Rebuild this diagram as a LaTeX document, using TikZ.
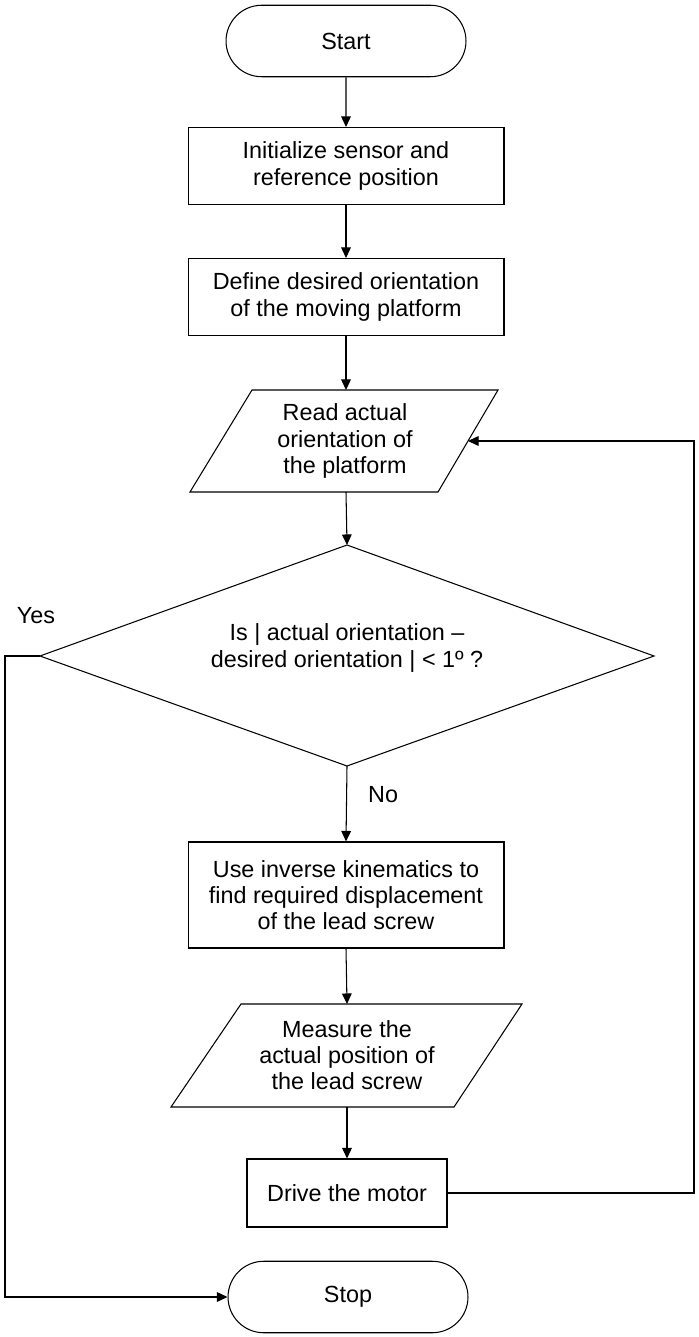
\documentclass[tikz,border=0pt]{standalone}
\usepackage{fontspec}
\setmainfont{Liberation Sans}
\usetikzlibrary{arrows.meta,calc,shapes.misc}
\begin{document}
\begin{tikzpicture}[x=0.02cm,y=-0.02cm,
  every node/.style={font=\fontsize{13.3}{15}\selectfont, align=center, inner sep=0pt},
  ln/.style={line width=0.6pt},
  proc/.style={draw, ln, rectangle, minimum width=6.32cm},
  term/.style={draw, ln, rounded rectangle, minimum width=4.8cm, minimum height=1.43cm},
  arr/.style={ln, -{Triangle[length=6pt,width=5.5pt]}}]
\path[use as bounding box] (0,0) rectangle (698,1337);

% nodes
\node[term] (start) at (346,41) {Start};
\node[proc, minimum height=1.54cm] (b1) at (346,166) {Initialize sensor and\\reference position};
\node[proc, minimum height=1.54cm] (b2) at (346,297) {Define desired orientation\\of the moving platform};

% parallelogram 1
\coordinate (p1tl) at (252,390); \coordinate (p1tr) at (498,390);
\coordinate (p1br) at (438,492); \coordinate (p1bl) at (190,492);
\draw[ln] (p1tl) -- (p1tr) -- (p1br) -- (p1bl) -- cycle;
\node (p1) at (345,441) {Read actual\\orientation of\\the platform};
\coordinate (p1n) at (346,390); \coordinate (p1s) at (346,492);
\coordinate (p1e) at ($(p1tr)!0.5!(p1br)$);

% decision
\coordinate (dt) at (347,545); \coordinate (dr) at (654,656);
\coordinate (db) at (347,766); \coordinate (dl) at (40,656);
\draw[ln] (dt) -- (dr) -- (db) -- (dl) -- cycle;
\node (dec) at (347,648) {Is | actual orientation –\\desired orientation | < 1º ?};
\node (yes) at (36,616) {Yes};

\node[proc, minimum height=2.12cm] (b3) at (346,895) {Use inverse kinematics to\\find required displacement\\of the lead screw};

% parallelogram 2
\coordinate (p2tl) at (241,1004); \coordinate (p2tr) at (522,1004);
\coordinate (p2br) at (454,1107); \coordinate (p2bl) at (171,1107);
\draw[ln] (p2tl) -- (p2tr) -- (p2br) -- (p2bl) -- cycle;
\node (p2) at (347,1055) {Measure the\\actual position of\\the lead screw};
\coordinate (p2n) at (347,1004); \coordinate (p2s) at (347,1107);

\node[draw, ln, minimum width=4cm, minimum height=1.36cm] (drive) at (347,1193) {Drive the motor};
\node[term] (stop) at (348,1297) {Stop};

% connectors
\draw[arr] (start) -- (b1);
\draw[arr] (b1) -- (b2);
\draw[arr] (b2.south) -- (p1n);
\draw[arr] (p1s) -- (dt);
\draw[arr] (db) -- node[right=12pt, pos=0.38] (no) {No} (b3.north);
\draw[arr] (b3.south) -- (p2n);
\draw[arr] (p2s) -- (drive.north);
\draw[arr] (drive.east) -- (694,1193) |- (p1e);
\draw[arr] (dl) -- (5,656) |- (stop.west);
\end{tikzpicture}
\end{document}
